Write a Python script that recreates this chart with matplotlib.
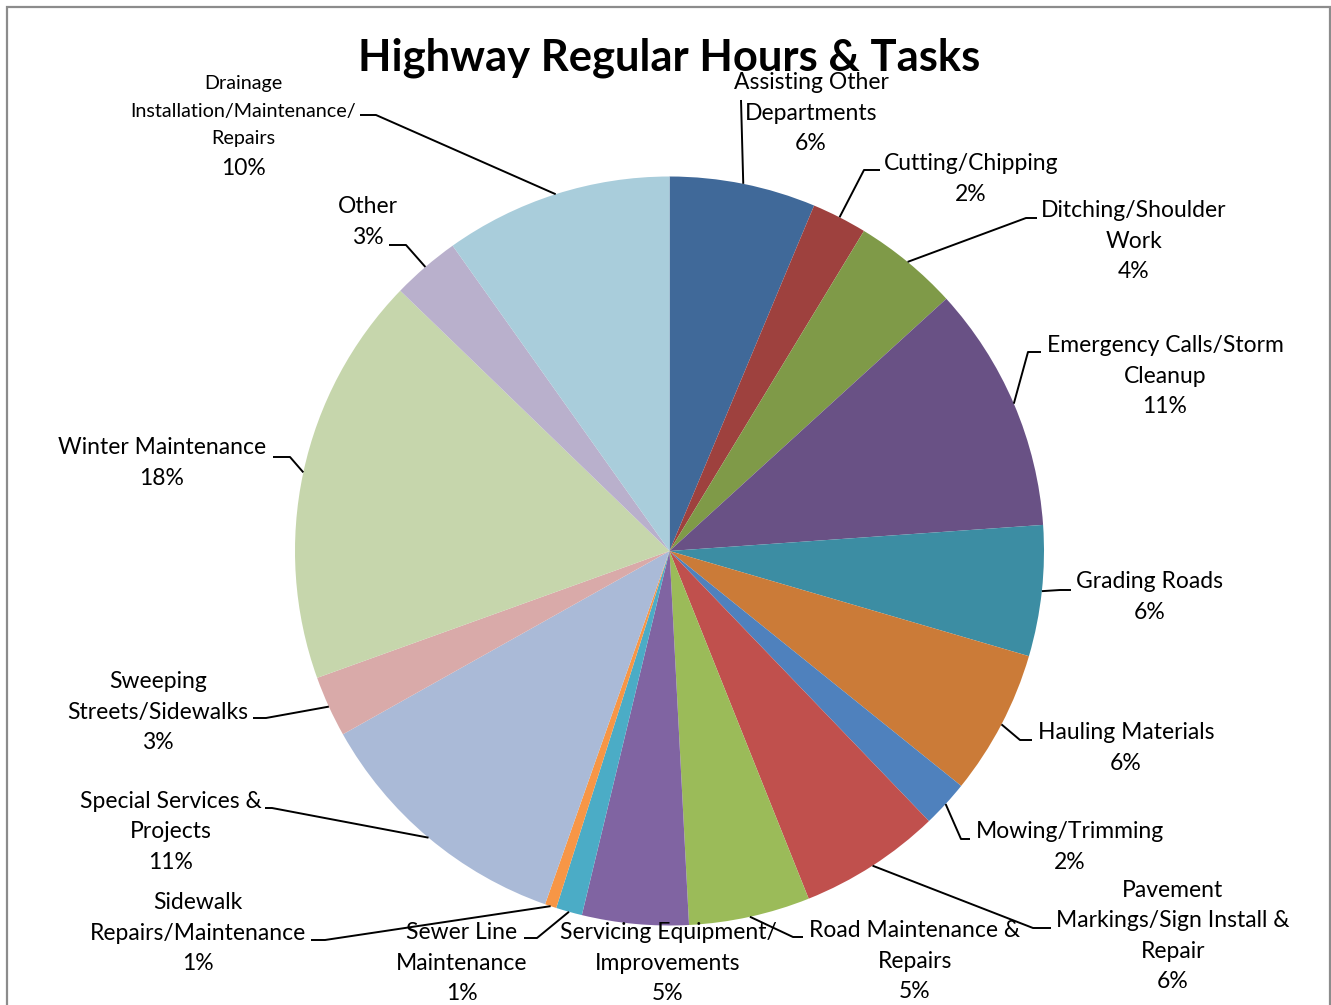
import numpy as np
import matplotlib
matplotlib.use("Agg")
import matplotlib.pyplot as plt
from matplotlib.patches import Rectangle

# ---- data ----
categories = [
    "Assisting Other\nDepartments", "Cutting/Chipping", "Ditching/Shoulder\nWork",
    "Emergency Calls/Storm\nCleanup", "Grading Roads", "Hauling Materials",
    "Mowing/Trimming", "Pavement\nMarkings/Sign Install &\nRepair",
    "Road Maintenance &\nRepairs", "Servicing Equipment/\nImprovements",
    "Sewer Line\nMaintenance", "Sidewalk\nRepairs/Maintenance",
    "Special Services &\nProjects", "Sweeping\nStreets/Sidewalks",
    "Winter Maintenance", "Other", "Drainage\nInstallation/Maintenance/\nRepairs",
]
values = [6.31, 2.38, 4.55, 10.65, 5.64, 6.26, 2.03, 6.12, 5.23, 4.59,
          1.13, 0.50, 11.47, 2.64, 17.73, 2.94, 9.83]
pct_labels = ["6%", "2%", "4%", "11%", "6%", "6%", "2%", "6%", "5%", "5%",
              "1%", "1%", "11%", "3%", "18%", "3%", "10%"]
colors = ["#406999", "#9E413E", "#7F9A48", "#695185", "#3C8DA3", "#CB7B38",
          "#4F81BD", "#C0504D", "#9BBB59", "#8064A2", "#4BACC6", "#F79646",
          "#AABAD7", "#D9AAA9", "#C6D6AC", "#B9B0CC", "#A9CDDB"]
title = "Highway Regular Hours & Tasks"

# ---- layout (pixel coordinates, y measured from top) ----
W, H = 1331, 1005
CX, CY, R = 669.5, 551, 374.5

def fy(y):
    return H - y

label_pos = [
    (811, 113), (971, 179), (1134, 241), (1165, 376),
    (1150, 597), (1126, 748), (1070, 847), (1173, 936),
    (915, 961), (668, 963), (462, 963), (198, 933),
    (171, 832), (158, 712), (162, 463), (368, 222),
    (243, 111),
]
leaders = [
    [(741, 100)],
    [(864, 170), (880, 170)],
    [(1026, 218), (1037, 218)],
    [(1028, 352), (1041, 352)],
    [(1060, 590), (1071, 590)],
    [(1020, 740), (1032, 740)],
    [(961, 839), (970, 839)],
    [(1033, 928), (1051, 928)],
    [(793, 937), (803, 937)],
    None,
    [(537, 938), (524, 938)],
    [(325, 940), (311, 940)],
    [(272, 808), (265, 808)],
    [(266, 718), (253, 718)],
    [(290, 457), (273, 457)],
    [(406, 245), (389, 245)],
    [(376, 115), (360, 115)],
]

plt.rcParams['font.family'] = ['Lato', 'DejaVu Sans']
fig = plt.figure(figsize=(W / 100, H / 100), dpi=100)
ax = fig.add_axes([0, 0, 1, 1])

wedges, _ = ax.pie(values, colors=colors, startangle=90, counterclock=False,
                   center=(CX, fy(CY)), radius=R,
                   wedgeprops=dict(linewidth=0))
ax.set_xlim(0, W)
ax.set_ylim(0, H)
ax.set_aspect('equal')
ax.axis('off')

# frame
ax.add_patch(Rectangle((7, fy(1010)), 1323, 1003, fill=False,
                       edgecolor="#8C8C8C", linewidth=1.6))

# leader lines from the mid-angle point of each slice's rim
cum = np.cumsum([0] + values)
total = cum[-1]
for i, pts in enumerate(leaders):
    if pts is None:
        continue
    mid = (cum[i] + cum[i + 1]) / 2 / total * 2 * np.pi
    sx = CX + R * np.sin(mid)
    sy = CY - R * np.cos(mid)
    xs = [sx] + [p[0] for p in pts]
    ys = [fy(sy)] + [fy(p[1]) for p in pts]
    ax.plot(xs, ys, color="black", linewidth=1.4, solid_capstyle='butt')

FS = 16.5
last = len(categories) - 1
for i, (name, pct) in enumerate(zip(categories, pct_labels)):
    x, y = label_pos[i]
    if i == last:
        ax.text(x, fy(y), name, ha='center', va='center',
                fontsize=14.2, linespacing=1.75, color="black")
        ax.text(x, fy(168), pct, ha='center', va='center',
                fontsize=FS, color="black")
    else:
        ax.text(x, fy(y), name + "\n" + pct, ha='center', va='center',
                fontsize=FS, linespacing=1.55, color="black")

ax.text(669, fy(58), title, ha='center', va='center', fontsize=31.3,
        fontweight='bold', color="black")

fig.savefig("out.png", dpi=100)
